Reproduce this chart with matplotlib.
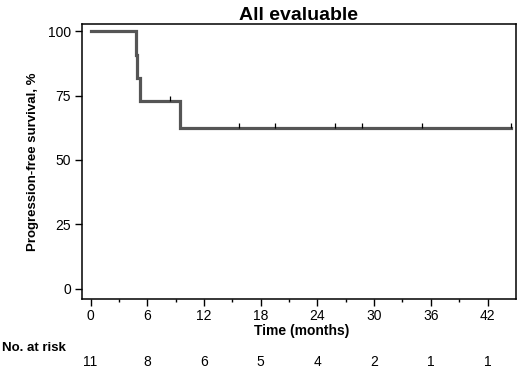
import numpy as np
import matplotlib.pyplot as plt
import matplotlib.transforms as mtransforms

# Kaplan-Meier steps (months, % progression-free)
step_times = [0, 4.8, 4.9, 5.25, 9.45, 44.5]
step_surv = [100, 90.9, 81.8, 72.7, 62.3, 62.3]

# censored observations
censor_times = [8.4, 15.7, 19.5, 25.9, 28.7, 35.1, 44.5]
censor_surv = [72.7, 62.3, 62.3, 62.3, 62.3, 62.3, 62.3]

risk_times = [0, 6, 12, 18, 24, 30, 36, 42]
at_risk = [11, 8, 6, 5, 4, 2, 1, 1]


def main():
    plt.rcParams['font.family'] = ['Liberation Sans', 'DejaVu Sans']
    fig = plt.figure(figsize=(5.2, 3.69), dpi=100)
    ax = fig.add_axes([0.1577, 0.19, 0.8345, 0.745])

    ax.step(step_times, step_surv, where='post', color='#555555', lw=2.3,
            solid_joinstyle='miter')
    ax.vlines(censor_times, censor_surv, np.array(censor_surv) + 2.2,
              color='black', lw=0.9)

    ax.set_xlim(-0.9, 45)
    ax.set_ylim(-4, 102.8)
    ax.set_xticks(risk_times)
    ax.set_xticks(np.arange(3, 45, 6), minor=True)
    ax.set_yticks([0, 25, 50, 75, 100])
    ax.tick_params(axis='both', which='major', length=5, width=1, labelsize=10,
                   pad=3, color='black')
    ax.tick_params(axis='x', which='major', pad=2)
    ax.tick_params(axis='x', which='minor', length=2.5, width=1)
    for sp in ax.spines.values():
        sp.set_linewidth(1.1)

    ax.set_title('All evaluable', fontsize=14, fontweight='bold', pad=3)
    ax.set_ylabel('Progression-free survival, %', fontsize=9.5,
                  fontweight='bold', labelpad=6)
    fig.text(0.58, 1 - 331 / 369, 'Time (months)', fontsize=10,
             fontweight='bold', ha='center', va='center')

    # number at risk table
    fig.text(0.004, 1 - 348 / 369, 'No. at risk', fontsize=9.5,
             fontweight='bold', ha='left', va='center')
    trans = mtransforms.blended_transform_factory(ax.transData, fig.transFigure)
    for t, n in zip(risk_times, at_risk):
        ax.text(t, 1 - 362 / 369, str(n), transform=trans, fontsize=10,
                ha='center', va='center', clip_on=False)

    fig.savefig('out.png', dpi=100)


if __name__ == '__main__':
    main()
